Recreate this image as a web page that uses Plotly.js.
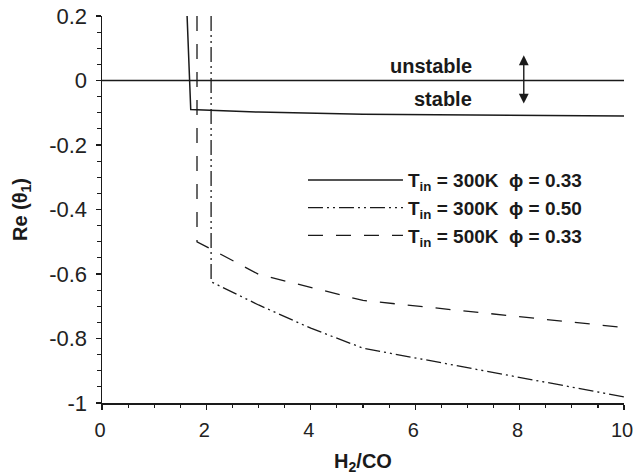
<!DOCTYPE html>
<html>
<head>
<meta charset="utf-8">
<script src="https://cdn.plot.ly/plotly-3.0.1.min.js"></script>
<style>html,body{margin:0;padding:0;background:#fff}#chart{width:634px;height:475px}</style>
</head>
<body>
<div id="chart"></div>
<script>
// Series: T_in = 300K, phi = 0.33 (solid)
const xSolid = [1.63, 1.70, 3.0, 5.0, 10.0];
const ySolid = [0.2, -0.09, -0.098, -0.105, -0.110];
// Series: T_in = 300K, phi = 0.50 (dash-dot-dot)
const xDashDot = [2.09, 2.09, 3.0, 4.0, 5.0, 10.0];
const yDashDot = [0.2, -0.624, -0.696, -0.768, -0.830, -0.981];
// Series: T_in = 500K, phi = 0.33 (dashed)
const xDash = [1.82, 1.82, 3.0, 5.0, 10.0];
const yDash = [0.2, -0.50, -0.601, -0.682, -0.766];
// Stability boundary
const xZero = [0, 10];
const yZero = [0, 0];

const seriesNames = [
  'T<sub>in</sub> = 300K  ϕ = 0.33',
  'T<sub>in</sub> = 300K  ϕ = 0.50',
  'T<sub>in</sub> = 500K  ϕ = 0.33'
];
const xTickVals = [0, 2, 4, 6, 8, 10];
const xTickText = ['0', '2', '4', '6', '8', '10'];
const yTickVals = [0.2, 0, -0.2, -0.4, -0.6, -0.8, -1];
const yTickText = ['0.2', '0', '-0.2', '-0.4', '-0.6', '-0.8', '-1'];

const ink = '#1a1a1a';
const FONT = 'Liberation Sans, Arial, sans-serif';

const traces = [
  {x: xZero, y: yZero, mode: 'lines', line: {color: ink, width: 1.5}, showlegend: false, hoverinfo: 'skip'},
  {x: xSolid, y: ySolid, name: seriesNames[0], mode: 'lines', line: {color: ink, width: 1.5}},
  {x: xDashDot, y: yDashDot, name: seriesNames[1], mode: 'lines', line: {color: ink, width: 1.3, dash: '15px,4px,2px,4px,2px,4px'}},
  {x: xDash, y: yDash, name: seriesNames[2], mode: 'lines', line: {color: ink, width: 1.3, dash: '15px,13px'}}
];

const axCommon = {
  showgrid: false, zeroline: false, linecolor: ink, linewidth: 1.5,
  ticks: 'outside', ticklen: 5, tickwidth: 1.3, tickcolor: ink,
  tickfont: {family: FONT, size: 22, color: '#222'},
  ticklabeloverflow: 'allow'
};

const layout = {
  width: 634, height: 475,
  margin: {l: 102, r: 10, t: 16, b: 72},
  paper_bgcolor: '#fff', plot_bgcolor: '#fff',
  font: {family: FONT, color: ink},
  xaxis: Object.assign({}, axCommon, {
    range: [0, 10], tickvals: xTickVals, ticktext: xTickText, showline: true,
    ticklabelstandoff: 3, ticklabelshift: -2,
    tickfont: {family: FONT, size: 20, color: '#222'},
    minor: {dtick: 0.5, ticks: 'outside', ticklen: 3.5, tickwidth: 1.2, tickcolor: ink},
    title: {text: '<b>H<sub>2</sub>/CO</b>', font: {family: FONT, size: 20, color: ink}, standoff: 14}
  }),
  yaxis: Object.assign({}, axCommon, {
    range: [-1, 0.2], tickvals: yTickVals, ticktext: yTickText, showline: true, ticklabelstandoff: 4,
    minor: {dtick: 0.05, ticks: 'outside', ticklen: 3.5, tickwidth: 1.2, tickcolor: ink},
    title: {text: '<b>Re (θ<sub>1</sub>)</b>', font: {family: FONT, size: 20, color: ink}, standoff: 16}
  }),
  xaxis2: {overlaying: 'x', anchor: 'y', range: [0, 10], tickvals: xTickVals, showticklabels: false,
    showgrid: false, zeroline: false, showline: false, ticks: 'inside', ticklen: 5, tickwidth: 1.3, tickcolor: ink,
    minor: {dtick: 0.5, ticks: 'inside', ticklen: 3.5, tickwidth: 1.2, tickcolor: ink}},
  yaxis2: {overlaying: 'y', anchor: 'x', range: [-1, 0.2], tickvals: yTickVals, showticklabels: false,
    showgrid: false, zeroline: false, showline: false, ticks: 'inside', ticklen: 5, tickwidth: 1.3, tickcolor: ink,
    minor: {dtick: 0.05, ticks: 'inside', ticklen: 3.5, tickwidth: 1.2, tickcolor: ink}},
  showlegend: true,
  legend: {
    x: 0.385, y: 0.625, xanchor: 'left', yanchor: 'top',
    bgcolor: 'rgba(0,0,0,0)', borderwidth: 0,
    font: {family: FONT, size: 19, color: ink, weight: 'bold'},
    itemwidth: 95, tracegroupgap: 0
  },
  annotations: [
    {x: 6.30, y: 0.044, xref: 'x', yref: 'y', text: '<b>unstable</b>', showarrow: false,
     font: {family: FONT, size: 20, color: ink}},
    {x: 6.53, y: -0.056, xref: 'x', yref: 'y', text: '<b>stable</b>', showarrow: false,
     font: {family: FONT, size: 20, color: ink}},
    {x: 8.08, y: 0.078, ax: 8.08, ay: -0.076, xref: 'x', yref: 'y', axref: 'x', ayref: 'y',
     text: '', showarrow: true, arrowside: 'end+start', arrowhead: 2, arrowsize: 1.4, arrowwidth: 1.4, arrowcolor: ink}
  ]
};

Plotly.newPlot('chart', traces, layout, {displayModeBar: false, staticPlot: true});
</script>
</body>
</html>
